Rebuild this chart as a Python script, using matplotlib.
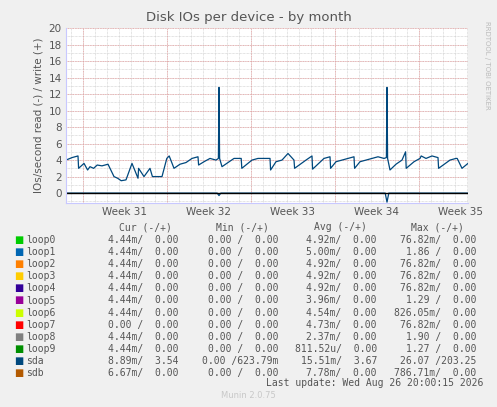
import numpy as np
import matplotlib
matplotlib.use('Agg')
from matplotlib import pyplot as plt

## Data (x in days from left edge of graph)
#
sda_t = [0.0, 0.5, 1.0, 1.05, 1.5, 1.8, 2.0, 2.3, 2.6, 3.0, 3.5, 4.0, 4.3, 4.6, 5.0, 5.5, 6.0, 6.05,
         6.5, 7.0, 7.2, 7.5, 8.0, 8.4, 8.6, 9.0, 9.5, 10.0, 10.5, 11.0, 11.05, 11.5, 12.0, 12.5, 12.7,
         12.75, 12.8, 13.0, 14.0, 14.6, 14.65, 15.5, 16.0, 16.5, 17.0, 17.05, 17.5, 18.0, 18.5, 19.0,
         19.05, 20.0, 20.5, 20.55, 21.5, 22.0, 22.05, 22.5, 23.0, 23.5, 24.0, 24.05, 24.5, 25.0,
         25.5, 26.0, 26.5, 26.7, 26.75, 26.8, 27.0, 27.5, 28.0, 28.3, 28.35, 29.0, 29.5, 29.6,
         30.0, 30.5, 31.0, 31.05, 32.0, 32.5, 32.6, 33.0, 33.5]
sda_v = [4.0, 4.3, 4.5, 3.0, 3.6, 2.8, 3.2, 3.0, 3.4, 3.3, 3.5, 2.0, 1.8, 1.5, 1.6, 3.6, 1.8, 3.0,
         2.0, 3.0, 2.0, 2.0, 2.0, 4.2, 4.5, 3.0, 3.5, 3.7, 4.2, 4.4, 3.4, 3.8, 4.2, 4.0, 4.2,
         12.8, 4.2, 3.2, 4.2, 4.2, 3.0, 4.0, 4.2, 4.2, 4.2, 2.8, 3.8, 4.0, 4.8, 4.0, 3.0,
         4.0, 4.5, 2.9, 4.2, 4.4, 3.0, 3.8, 4.0, 4.2, 4.4, 3.0, 3.8, 4.0, 4.2, 4.4, 4.2, 4.3,
         12.8, 4.2, 2.8, 3.5, 4.0, 5.0, 3.0, 3.8, 4.2, 4.5, 4.2, 4.5, 4.3, 3.0, 4.0, 4.2, 4.2,
         3.0, 3.6]
neg_t = [0.0, 12.6, 12.75, 12.9, 26.6, 26.75, 26.9, 33.5]
neg_v = [0.0, 0.0, -0.3, 0.0, 0.0, -1.1, 0.0, 0.0]

week_edges = [1.4, 8.4, 15.4, 22.4, 29.4]
week_labels = ['Week 31', 'Week 32', 'Week 33', 'Week 34', 'Week 35']

names = ['loop0', 'loop1', 'loop2', 'loop3', 'loop4', 'loop5', 'loop6', 'loop7', 'loop8', 'loop9', 'sda', 'sdb']
colors = ['#00CC00', '#0066B3', '#FF8000', '#FFCC00', '#330099', '#990099', '#CCFF00', '#FF0000',
          '#808080', '#008F00', '#00487D', '#B35A00']
cur = ['4.44m/  0.00', '4.44m/  0.00', '4.44m/  0.00', '4.44m/  0.00', '4.44m/  0.00', '4.44m/  0.00',
       '4.44m/  0.00', '0.00 /  0.00', '4.44m/  0.00', '4.44m/  0.00', '8.89m/  3.54', '6.67m/  0.00']
mins = ['0.00 /  0.00'] * 10 + ['0.00 /623.79m', '0.00 /  0.00']
avgs = ['4.92m/  0.00', '5.00m/  0.00', '4.92m/  0.00', '4.92m/  0.00', '4.92m/  0.00', '3.96m/  0.00',
        '4.54m/  0.00', '4.73m/  0.00', '2.37m/  0.00', '811.52u/  0.00', '15.51m/  3.67', '7.78m/  0.00']
maxs = ['76.82m/  0.00', '1.86 /  0.00', '76.82m/  0.00', '76.82m/  0.00', '76.82m/  0.00', '1.29 /  0.00',
        '826.05m/  0.00', '76.82m/  0.00', '1.90 /  0.00', '1.27 /  0.00', '26.07 /203.25', '786.71m/  0.00']

W, H = 497, 407
fig = plt.figure(figsize=(W / 100, H / 100), dpi=100, facecolor='#F0F0F0')
ax = fig.add_axes([66 / W, 1 - 203 / H, (468 - 66) / W, (203 - 28) / H])
ax.set_facecolor('white')
ax.set_xlim(0, 33.5)
ax.set_ylim(-1.2, 20)

## Grid
for d in np.arange(0.4, 33.5, 1.0):
    ax.axvline(d, color='#C8C8C8', lw=0.5, ls=(0, (1, 1)), zorder=0)
for y in range(-1, 21, 1):
    ax.axhline(y, color='#C8C8C8', lw=0.5, ls=(0, (1, 1)), zorder=0)
for d in week_edges:
    ax.axvline(d, color='#E8A0A0', lw=0.6, ls=(0, (1, 1)), zorder=0)
for y in range(0, 21, 2):
    ax.axhline(y, color='#E8A0A0', lw=0.6, ls=(0, (1, 1)), zorder=0)

ax.plot(sda_t, sda_v, color=colors[10], lw=0.9)
ax.plot(neg_t, neg_v, color=colors[10], lw=0.9)
ax.axhline(0, color='black', lw=1.0)

ax.set_yticks(range(0, 21, 2))
ax.set_xticks([e + 3.5 for e in week_edges])
ax.set_xticklabels(week_labels)
ax.tick_params(length=0, labelsize=7.5, colors='#555555', pad=3)
for s in ['top', 'right']:
    ax.spines[s].set_visible(False)
for s in ['left', 'bottom']:
    ax.spines[s].set_color('#C8C8FF')

ax.set_ylabel('IOs/second read (-) / write (+)', fontsize=7.5, color='#555555', labelpad=4)
fig.text(0.5, 1 - 18 / H, 'Disk IOs per device - by month', ha='center', va='center',
         fontsize=9.5, color='#555555')
fig.text(487 / W, 1 - 65 / H, 'RRDTOOL / TOBI OETIKER', rotation=270, ha='center', va='center',
         fontsize=5, color='#BBBBBB')

## Legend table
mono = dict(family='DejaVu Sans Mono', fontsize=7, color='#555555')
heads = [(145, 'Cur (-/+)'), (242, 'Min (-/+)'), (340, 'Avg (-/+)'), (437, 'Max (-/+)')]
for x, h in heads:
    fig.text(x / W, 1 - 227 / H, h, ha='center', va='center', **mono)
for i, n in enumerate(names):
    y = 1 - (240 + i * 12.1) / H
    fig.text(14 / W, y, '\u25a0', ha='left', va='center', fontsize=7, color=colors[i], family='DejaVu Sans')
    fig.text(26 / W, y, n, ha='left', va='center', **mono)
    fig.text(179 / W, y, cur[i], ha='right', va='center', **mono)
    fig.text(278 / W, y, mins[i], ha='right', va='center', **mono)
    fig.text(377 / W, y, avgs[i], ha='right', va='center', **mono)
    fig.text(476 / W, y, maxs[i], ha='right', va='center', **mono)
fig.text(483 / W, 1 - 383 / H, 'Last update: Wed Aug 26 20:00:15 2026', ha='right', va='center', **mono)
fig.text(248 / W, 1 - 396 / H, 'Munin 2.0.75', ha='center', va='center', fontsize=6, color='#C8C8C8')

fig.savefig('out.png', dpi=100, facecolor=fig.get_facecolor())
